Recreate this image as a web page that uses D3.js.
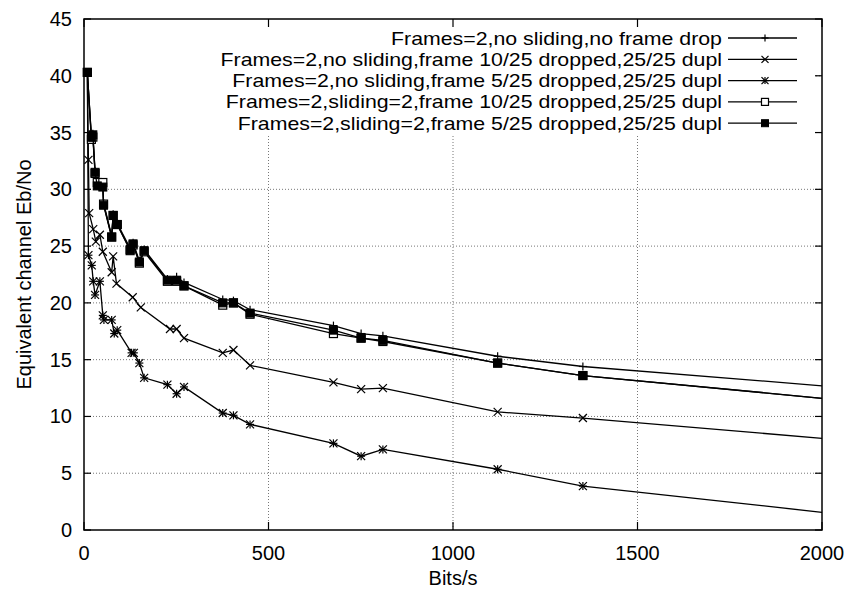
<!DOCTYPE html>
<html><head><meta charset="utf-8">
<script src="https://cdn.jsdelivr.net/npm/d3@7"></script>
<style>body{margin:0;background:#fff}svg{display:block}text{font-family:"Liberation Sans",Arial,sans-serif;fill:#000}</style>
</head><body><svg id="c" width="848" height="592"></svg>
<script>
const seriesNames = [
  "Frames=2,no sliding,no frame drop",
  "Frames=2,no sliding,frame 10/25 dropped,25/25 dupl",
  "Frames=2,no sliding,frame 5/25 dropped,25/25 dupl",
  "Frames=2,sliding=2,frame 10/25 dropped,25/25 dupl",
  "Frames=2,sliding=2,frame 5/25 dropped,25/25 dupl"
];
const markerTypes = ["plus", "cross", "star", "box", "fbox"];

const xSq = [9, 20, 24, 30, 36, 51, 53, 75, 79, 90, 125, 133, 150, 163, 226, 251, 271, 376, 405, 450, 676, 751, 810, 1121, 1352, 2000];
const yPlus = [40.3, 34.7, 34.9, 31.6, 30.4, 30.3, 28.8, 25.9, 27.8, 27.0, 24.8, 25.3, 23.7, 24.7, 22.1, 22.3, 21.8, 20.3, 20.2, 19.4, 18.0, 17.3, 17.1, 15.3, 14.4, 12.7];
const yOpenSq = [40.3, 34.4, 34.6, 31.4, 30.6, 30.6, 28.7, 25.8, 27.7, 26.9, 24.6, 25.1, 23.5, 24.5, 21.9, 21.9, 21.5, 19.8, 20.0, 19.0, 17.3, 16.9, 16.6, 14.7, 13.6, 11.6];
const yFillSq = [40.3, 34.6, 34.8, 31.5, 30.3, 30.2, 28.6, 25.8, 27.7, 26.9, 24.7, 25.2, 23.6, 24.6, 22.0, 22.0, 21.5, 20.0, 20.0, 19.1, 17.6, 16.9, 16.7, 14.7, 13.6, 11.6];

const xCross = [9, 12, 14, 25, 32, 43, 51, 75, 79, 88, 132, 154, 233, 251, 271, 376, 405, 450, 676, 751, 810, 1121, 1352, 2000];
const yCross = [40.3, 32.6, 27.9, 26.5, 25.4, 26.0, 24.5, 22.7, 24.1, 21.7, 20.5, 19.6, 17.7, 17.7, 16.9, 15.6, 15.85, 14.5, 13.0, 12.4, 12.5, 10.4, 9.86, 8.07];

const xStar = [9, 12, 21, 25, 30, 43, 51, 54, 75, 82, 90, 129, 135, 150, 163, 226, 251, 271, 376, 405, 450, 676, 751, 810, 1121, 1352, 2000];
const yStar = [40.3, 24.2, 23.3, 21.9, 20.7, 21.9, 18.9, 18.5, 18.5, 17.3, 17.6, 15.6, 15.6, 14.7, 13.4, 12.8, 12.0, 12.6, 10.3, 10.1, 9.3, 7.63, 6.5, 7.1, 5.35, 3.87, 1.56];

const xTicks = [0, 500, 1000, 1500, 2000];
const yTicks = [0, 5, 10, 15, 20, 25, 30, 35, 40, 45];

const series = [
  {x: xSq, y: yPlus},
  {x: xCross, y: yCross},
  {x: xStar, y: yStar},
  {x: xSq, y: yOpenSq},
  {x: xSq, y: yFillSq}
];

const W = 848, H = 592, m = {l: 84, t: 19, r: 26, b: 62};
const svg = d3.select("#c");
const x = d3.scaleLinear().domain([0, 2000]).range([m.l, W - m.r]);
const y = d3.scaleLinear().domain([0, 45]).range([H - m.b, m.t]);

// grid
const g = svg.append("g");
g.selectAll(".gx").data(xTicks.slice(1, -1)).enter().append("line")
  .attr("x1", d => x(d)).attr("x2", d => x(d)).attr("y1", y(0)).attr("y2", y(45))
  .attr("stroke", "#777").attr("stroke-width", 1).attr("stroke-dasharray", "1,2");
g.selectAll(".gy").data(yTicks.slice(1, -1)).enter().append("line")
  .attr("x1", x(0)).attr("x2", x(2000)).attr("y1", d => y(d)).attr("y2", d => y(d))
  .attr("stroke", "#777").attr("stroke-width", 1).attr("stroke-dasharray", "1,2");
// key background hides grid
svg.append("rect").attr("x", x(0) + 1).attr("y", y(45)).attr("width", 731).attr("height", 115).attr("fill", "#fff");

function marker(sel, type, cx, cy, s) {
  const p = sel.append("g").attr("transform", `translate(${cx},${cy})`);
  const st = {stroke: "#000", "stroke-width": 1.2, fill: "none"};
  const ln = (a, b, c, d) => { const l = p.append("line").attr("x1", a).attr("y1", b).attr("x2", c).attr("y2", d); Object.entries(st).forEach(([k, v]) => l.attr(k, v)); };
  if (type === "plus" || type === "star") { ln(-s, 0, s, 0); ln(0, -s, 0, s); }
  if (type === "cross" || type === "star") { ln(-s, -s, s, s); ln(-s, s, s, -s); }
  if (type === "box") p.append("rect").attr("x", -s).attr("y", -s).attr("width", 2 * s).attr("height", 2 * s).attr("fill", "#fff").attr("stroke", "#000").attr("stroke-width", 1.2);
  if (type === "fbox") p.append("rect").attr("x", -s).attr("y", -s).attr("width", 2 * s).attr("height", 2 * s).attr("fill", "#000").attr("stroke", "#000").attr("stroke-width", 1);
}

const line = d3.line().x(d => x(d[0])).y(d => y(d[1]));
const dg = svg.append("g");
series.forEach((s, i) => {
  const pts = s.x.map((v, j) => [v, s.y[j]]);
  dg.append("path").attr("d", line(pts)).attr("fill", "none").attr("stroke", "#000").attr("stroke-width", 1.3);
  pts.slice(0, -1).forEach(p => marker(dg, markerTypes[i], x(p[0]), y(p[1]), 4));
});

// border + ticks
svg.append("rect").attr("x", x(0)).attr("y", y(45)).attr("width", x(2000) - x(0)).attr("height", y(0) - y(45))
  .attr("fill", "none").attr("stroke", "#000").attr("stroke-width", 1.5);
const tg = svg.append("g").attr("stroke", "#000").attr("stroke-width", 1.2);
xTicks.forEach(t => {
  tg.append("line").attr("x1", x(t)).attr("x2", x(t)).attr("y1", y(0)).attr("y2", y(0) - 8);
  tg.append("line").attr("x1", x(t)).attr("x2", x(t)).attr("y1", y(45)).attr("y2", y(45) + 8);
});
yTicks.forEach(t => {
  tg.append("line").attr("x1", x(0)).attr("x2", x(0) + 7).attr("y1", y(t)).attr("y2", y(t));
  tg.append("line").attr("x1", x(2000)).attr("x2", x(2000) - 7).attr("y1", y(t)).attr("y2", y(t));
});

// tick labels
svg.selectAll(".xl").data(xTicks).enter().append("text")
  .attr("x", d => x(d)).attr("y", y(0) + 23).attr("text-anchor", "middle").attr("dominant-baseline", "central")
  .attr("font-size", 20).text(d => d);
svg.selectAll(".yl").data(yTicks).enter().append("text")
  .attr("x", x(0) - 12).attr("y", d => y(d)).attr("text-anchor", "end").attr("dominant-baseline", "central")
  .attr("font-size", 20).text(d => d);

svg.append("text").attr("x", (x(0) + x(2000)) / 2).attr("y", 578).attr("text-anchor", "middle")
  .attr("dominant-baseline", "central").attr("font-size", 20).text("Bits/s");
svg.append("text").attr("transform", `translate(24,${(y(0) + y(45)) / 2}) rotate(-90)`).attr("text-anchor", "middle")
  .attr("dominant-baseline", "central").attr("font-size", 20).text("Equivalent channel Eb/No");

// legend (glyphs slightly widened to match the reference's wide face)
const lg = svg.append("g");
const legFont = 18.5, widen = 21.3 / 18.5;
seriesNames.forEach((n, i) => {
  const ly = 38 + i * 21.3;
  const t = lg.append("text").attr("x", 722).attr("y", ly).attr("text-anchor", "end").attr("dominant-baseline", "central")
    .attr("font-size", legFont).text(n);
  const w = t.node().getComputedTextLength();
  t.attr("textLength", w * widen).attr("lengthAdjust", "spacingAndGlyphs");
  lg.append("line").attr("x1", 728).attr("x2", 797).attr("y1", ly).attr("y2", ly).attr("stroke", "#000").attr("stroke-width", 1.3);
  marker(lg, markerTypes[i], 765, ly, 3.5);
});
</script></body></html>
